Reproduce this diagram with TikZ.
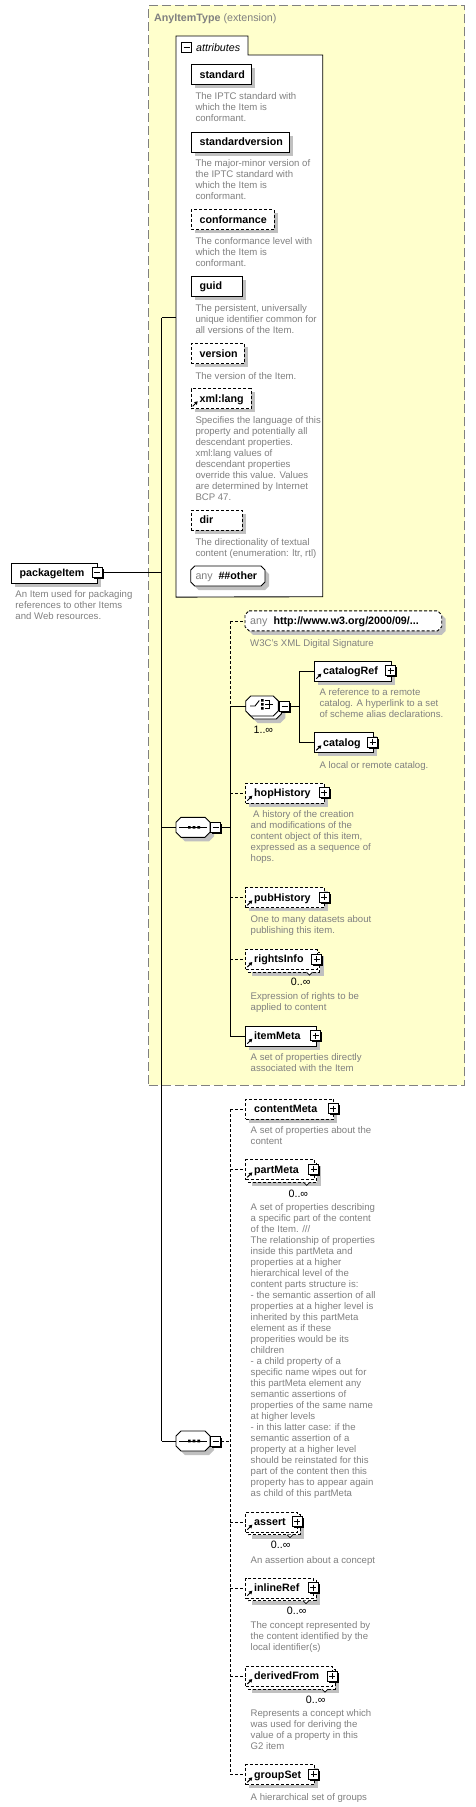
\documentclass[tikz,border=0pt]{standalone}
\usepackage{fontspec}
\setmainfont{Liberation Sans}
\usetikzlibrary{calc}
\definecolor{bgyellow}{RGB}{255,255,204}
\definecolor{descgray}{RGB}{128,128,128}
\definecolor{shadowgray}{RGB}{192,192,192}
\definecolor{framegray}{RGB}{128,128,128}
\tikzset{
  conn/.style={line width=0.9pt},
  dconn/.style={line width=0.9pt, dash pattern=on 3pt off 2pt},
  sbox/.style={draw, fill=white, line width=0.9pt, minimum height=20pt, inner sep=0pt, anchor=north west},
  dbox/.style={sbox, dash pattern=on 3pt off 2pt},
  etext/.style={anchor=base west, inner sep=0pt, font=\bfseries\fontsize{10.7}{12}\selectfont},
  anytext/.style={anchor=base west, inner sep=0pt, text=descgray, font=\fontsize{10.7}{12}\selectfont},
  desc/.style={anchor=north west, inner sep=0pt, align=left, text=descgray, font=\fontsize{9.6}{11}\selectfont, execute at begin node=\strut},
  occ/.style={anchor=base east, inner sep=0pt, font=\fontsize{10.7}{12}\selectfont, text=black},
  btn/.style={draw, fill=white, line width=0.8pt, minimum size=10pt, inner sep=0pt},
  frame/.style={draw=framegray, fill=bgyellow, line width=0.9pt, dash pattern=on 9pt off 4pt, inner sep=0pt, anchor=north west},
  anchorbox/.style={inner sep=0pt, minimum height=20pt, anchor=north west},
}
% element box: name, x, y, w, style, text
\newcommand\El[6]{%
  \fill[shadowgray] (#2+4,#3+4) rectangle ++(#4,20);
  \node[#5, minimum width=#4] (#1) at (#2,#3) {};
  \node[etext] (#1-t) at (#2+8.7,#3+13.9) {#6};
}
% multiple-occurrence element: name, x, y, w, text
\newcommand\Mu[5]{%
  \fill[shadowgray] (#2+7,#3+7) rectangle ++(#4,20);
  \draw[fill=white, line width=0.9pt, dash pattern=on 3pt off 2pt] (#2+3,#3+3) rectangle ++(#4,20);
  \node[dbox, minimum width=#4] (#1) at (#2,#3) {};
  \draw[line width=0.7pt, fill=white] (#2+#4-10,#3+23) -- (#2+#4-7,#3+26) -- (#2+#4-4,#3+23);
  \node[etext] (#1-t) at (#2+8.7,#3+13.9) {#5};
}
% reference arrow inside box at x,y
\newcommand\Ra[2]{%
  \draw[line width=1pt] (#1+2,#2+18) -- (#1+5.2,#2+14.8);
  \fill (#1+7,#2+13) -- (#1+3.3,#2+13.9) -- (#1+6.1,#2+16.7) -- cycle;
}
% plus / minus buttons: name, xc, yc
\newcommand\Pb[3]{%
  \fill (#2-3.5,#3-3.5) rectangle (#2+6.5,#3+6.5);
  \node[btn] (#1) at (#2,#3) {};
  \draw[line width=0.9pt] (#2-3,#3) -- (#2+3,#3) (#2,#3-3) -- (#2,#3+3);
}
\newcommand\Mb[3]{%
  \fill (#2-3.5,#3-3.5) rectangle (#2+6.5,#3+6.5);
  \node[btn] (#1) at (#2,#3) {};
  \draw[line width=0.9pt] (#2-3,#3) -- (#2+3,#3);
}
% octagon: x, y, w, h, chamfer, style
\newcommand\Oct[6]{%
  \path[#6] (#1+#5,#2) -- (#1+#3-#5,#2) -- (#1+#3,#2+#5) -- (#1+#3,#2+#4-#5) -- (#1+#3-#5,#2+#4) -- (#1+#5,#2+#4) -- (#1,#2+#4-#5) -- (#1,#2+#5) -- cycle;
}
\begin{document}
\begin{tikzpicture}[x=1pt,y=-1pt]
\useasboundingbox (0,0) rectangle (475,1807);
\fill[white] (0,0) rectangle (475,1807);

% AnyItemType frame
\node[frame, minimum width=316, minimum height=1080] (anytype) at (148.3,5) {};
\node[anchor=base west, inner sep=0pt, text=framegray, font=\fontsize{10.7}{12}\selectfont] (anytype-t) at (154,21.8) {\textbf{AnyItemType} (extension)};

% attributes panel
\node[anchorbox, minimum width=146.7, minimum height=560.7] (attrs) at (176,36) {};
\draw[fill=white, line width=0.9pt] (attrs.south west) -- (attrs.north west) -- (248,36) -- (248,55) -- (322.7,55) -- (322.7,596.7) -- cycle;
\node[btn] (attrs-b) at (186.5,47) {};
\draw[line width=0.9pt] (183.5,47) -- (189.5,47);
\node[anchor=base west, inner sep=0pt, font=\itshape\fontsize{10.7}{12}\selectfont] (attrs-t) at (196,51.3) {attributes};

\El{standard}{190.7}{64.3}{60.3}{sbox}{standard}
\node[desc] (standard-d) at (195.3,92.5) {The IPTC standard with\\which the Item is\\conformant.};
\El{stdver}{190.7}{131.7}{98.6}{sbox}{standardversion}
\node[desc] (stdver-d) at (195.3,159.1) {The major-minor version of\\the IPTC standard with\\which the Item is\\conformant.};
\El{conf}{190.7}{209.3}{83}{dbox}{conformance}
\node[desc] (conf-d) at (195.3,237.1) {The conformance level with\\which the Item is\\conformant.};
\El{guid}{190.7}{276}{51}{sbox}{guid}
\node[desc] (guid-d) at (195.3,304.5) {The persistent, universally\\unique identifier common for\\all versions of the Item.};
\El{version}{190.7}{343.3}{53.3}{dbox}{version}
\node[desc] (version-d) at (195.3,371.5) {The version of the Item.};
\El{xmllang}{190.7}{388.3}{60}{dbox}{xml:lang}
\Ra{190.7}{388.3}
\node[desc] (xmllang-d) at (195.3,416.1) {Specifies the language of this\\property and potentially all\\descendant properties.\\xml:lang values of\\descendant properties\\override this value. Values\\are determined by Internet\\BCP 47.};
\El{dir}{190.7}{510}{51.3}{dbox}{dir}
\node[desc] (dir-d) at (195.3,538.1) {The directionality of textual\\content (enumeration: ltr, rtl)};
\Oct{194.7}{570}{74.3}{20}{4}{fill=shadowgray}
\Oct{190.7}{566}{74.3}{20}{4}{draw, fill=white, line width=0.9pt}
\node[anchorbox, minimum width=74.3] (anyo) at (190.7,566) {};
\node[anytext] (anyo-a) at (195.3,579.9) {any};
\node[etext] (anyo-t) at (218.3,579.9) {\#\#other};

% packageItem
\El{pkg}{10.7}{562.7}{86}{sbox}{packageItem}
\Mb{pkg-b}{97.2}{572.7}
\node[desc] (pkg-d) at (15.3,590.1) {An Item used for packaging\\references to other Items\\and Web resources.};

% sequence 1
\Oct{180}{821.3}{34}{20}{5}{fill=shadowgray}
\Oct{176}{817.3}{34}{20}{5}{draw, fill=white, line width=0.9pt}
\node[anchorbox, minimum width=34] (seq1) at (176,817.3) {};
\draw[line width=0.9pt] (179,827.3) -- (207,827.3);
\fill (188,826) rectangle ++(2.7,2.7) (192.7,826) rectangle ++(2.7,2.7) (197.4,826) rectangle ++(2.7,2.7);
\Mb{seq1-b}{215.5}{827.3}

% any W3C
\Oct{249}{614.85}{196.7}{20}{4}{fill=shadowgray}
\Oct{245}{610.85}{196.7}{20}{4}{draw, fill=white, line width=0.9pt, dash pattern=on 3pt off 2pt}
\node[anchorbox, minimum width=196.7] (anyw) at (245,610.85) {};
\node[anytext] (anyw-a) at (250,624.7) {any};
\node[etext] (anyw-t) at (273.3,624.7) {http://www.w3.org/2000/09/...};
\node[desc] (anyw-d) at (250,638.1) {W3C's XML Digital Signature};

% choice
\Oct{252.7}{703}{32.6}{20}{5}{fill=shadowgray}
\Oct{248.7}{699}{32.6}{20}{5}{draw, fill=white, line width=0.9pt}
\Oct{245.7}{696}{32.6}{20}{5}{draw, fill=white, line width=0.9pt}
\node[anchorbox, minimum width=32.6] (choice) at (245.7,696) {};
\draw[line width=0.9pt] (250,706) -- (255,706) -- (259.3,700.5);
\fill (261,699) rectangle ++(2.6,2.6) (261,703) rectangle ++(2.6,2.6) (261,707) rectangle ++(2.6,2.6);
\draw[line width=0.9pt] (264.5,700.3) -- (269.5,700.3) -- (269.5,708.3) -- (264.5,708.3) (265,704.3) -- (273,704.3);
\Mb{choice-b}{284.7}{706}
\node[occ] (choice-o) at (273.3,733.8) {1..∞};

\El{catref}{314.3}{660.7}{76.4}{sbox}{catalogRef}
\Ra{314.3}{660.7}
\Pb{catref-b}{390.7}{670.7}
\node[desc] (catref-d) at (319.3,688.5) {A reference to a remote\\catalog. A hyperlink to a set\\of scheme alias declarations.};
\El{cat}{314.3}{732.3}{58.4}{sbox}{catalog}
\Ra{314.3}{732.3}
\Pb{cat-b}{372.7}{742.3}
\node[desc] (cat-d) at (319.3,760.1) {A local or remote catalog.};

\El{hop}{245.3}{782.7}{78.7}{dbox}{hopHistory}
\Ra{245.3}{782.7}
\Pb{hop-b}{324}{792.7}
\node[desc] (hop-d) at (250.5,810.1) {\hspace{2.5pt}A history of the creation\\and modifications of the\\content object of this item,\\expressed as a sequence of\\hops.};
\El{pub}{245.3}{887.3}{78.7}{dbox}{pubHistory}
\Ra{245.3}{887.3}
\Pb{pub-b}{324}{897.3}
\node[desc] (pub-d) at (250.5,915.1) {One to many datasets about\\publishing this item.};
\Mu{rights}{245.3}{949}{71.2}{rightsInfo}
\Ra{245.3}{949}
\Pb{rights-b}{316.5}{959}
\node[occ] (rights-o) at (310.7,985.5) {0..∞};
\node[desc] (rights-d) at (250.5,992.5) {Expression of rights to be\\applied to content};
\El{imeta}{245.3}{1025.7}{70.4}{sbox}{itemMeta}
\Ra{245.3}{1025.7}
\Pb{imeta-b}{315.7}{1035.7}
\node[desc] (imeta-d) at (250.5,1053.1) {A set of properties directly\\associated with the Item};

% sequence 2
\Oct{180}{1435}{34}{20}{5}{fill=shadowgray}
\Oct{176}{1431}{34}{20}{5}{draw, fill=white, line width=0.9pt}
\node[anchorbox, minimum width=34] (seq2) at (176,1431) {};
\draw[line width=0.9pt] (179,1441) -- (207,1441);
\fill (188,1439.7) rectangle ++(2.7,2.7) (192.7,1439.7) rectangle ++(2.7,2.7) (197.4,1439.7) rectangle ++(2.7,2.7);
\Mb{seq2-b}{215.5}{1441}

\El{cmeta}{245.3}{1098.7}{88}{dbox}{contentMeta}
\Pb{cmeta-b}{333.3}{1108.7}
\node[desc] (cmeta-d) at (250.5,1126.5) {A set of properties about the\\content};
\Mu{pmeta}{245.3}{1159.3}{68.5}{partMeta}
\Ra{245.3}{1159.3}
\Pb{pmeta-b}{313.8}{1169.3}
\node[occ] (pmeta-o) at (308.3,1197) {0..∞};
\node[desc] (pmeta-d) at (250.5,1203.5) {A set of properties describing\\a specific part of the content\\of the Item. ///\\The relationship of properties\\inside this partMeta and\\properties at a higher\\hierarchical level of the\\content parts structure is:\\- the semantic assertion of all\\properties at a higher level is\\inherited by this partMeta\\element as if these\\properities would be its\\children\\- a child property of a\\specific name wipes out for\\this partMeta element any\\semantic assertions of\\properties of the same name\\at higher levels\\- in this latter case: if the\\semantic assertion of a\\property at a higher level\\should be reinstated for this\\part of the content then this\\property has to appear again\\as child of this partMeta};
\Mu{assert}{245.3}{1511.7}{51.7}{assert}
\Ra{245.3}{1511.7}
\Pb{assert-b}{297}{1521.7}
\node[occ] (assert-o) at (290.7,1548.8) {0..∞};
\node[desc] (assert-d) at (250.5,1555.1) {An assertion about a concept};
\Mu{iref}{245.3}{1577.7}{67.7}{inlineRef}
\Ra{245.3}{1577.7}
\Pb{iref-b}{313}{1587.7}
\node[occ] (iref-o) at (306.7,1614.5) {0..∞};
\node[desc] (iref-d) at (250.5,1621.1) {The concept represented by\\the content identified by the\\local identifier(s)};
\Mu{dfrom}{245.3}{1666}{86.7}{derivedFrom}
\Ra{245.3}{1666}
\Pb{dfrom-b}{332}{1676}
\node[occ] (dfrom-o) at (325.7,1703) {0..∞};
\node[desc] (dfrom-d) at (250.5,1709.8) {Represents a concept which\\was used for deriving the\\value of a property in this\\G2 item};
\El{gset}{245.3}{1764.3}{68.5}{dbox}{groupSet}
\Ra{245.3}{1764.3}
\Pb{gset-b}{313.8}{1774.3}
\node[desc] (gset-d) at (250.5,1792.5) {A hierarchical set of groups};

% main spine
\coordinate (sA) at (161.7,317.7);
\coordinate (sB) at (161.7,1441);
\draw[conn] (sA) -- (sB);
\draw[conn] (sA) -- (sA -| attrs.west);
\draw[conn] (pkg-b.east) -- (pkg-b.east -| sA);
\draw[conn] (seq1.west -| sA) -- (seq1.west);
\draw[conn] (seq2.west -| sA) -- (seq2.west);

% sequence 1 spine
\coordinate (q1) at (230,827.3);
\draw[dconn] (anyw.west -| q1) -- (choice.west -| q1);
\draw[conn] (choice.west -| q1) -- (imeta.west -| q1);
\draw[conn] (seq1-b.east) -- (q1);
\draw[dconn] (anyw.west -| q1) -- (anyw.west);
\draw[conn] (choice.west -| q1) -- (choice.west);
\draw[dconn] (hop.west -| q1) -- (hop.west);
\draw[dconn] (pub.west -| q1) -- (pub.west);
\draw[dconn] (rights.west -| q1) -- (rights.west);
\draw[conn] (imeta.west -| q1) -- (imeta.west);

% choice branches
\coordinate (c1) at (299.3,706);
\draw[conn] (choice-b.east) -- (c1);
\draw[conn] (catref.west -| c1) -- (cat.west -| c1);
\draw[conn] (catref.west -| c1) -- (catref.west);
\draw[conn] (cat.west -| c1) -- (cat.west);

% sequence 2 spine
\coordinate (q2) at (230,1441);
\draw[dconn] (cmeta.west -| q2) -- (gset.west -| q2);
\draw[dconn] (seq2-b.east) -- (q2);
\draw[dconn] (cmeta.west -| q2) -- (cmeta.west);
\draw[dconn] (pmeta.west -| q2) -- (pmeta.west);
\draw[dconn] (assert.west -| q2) -- (assert.west);
\draw[dconn] (iref.west -| q2) -- (iref.west);
\draw[dconn] (dfrom.west -| q2) -- (dfrom.west);
\draw[dconn] (gset.west -| q2) -- (gset.west);
\end{tikzpicture}
\end{document}
